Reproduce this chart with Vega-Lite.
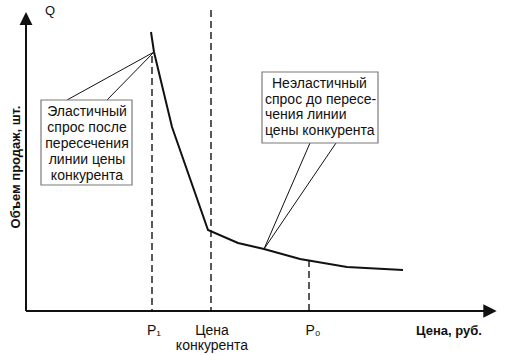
{
  "$schema": "https://vega.github.io/schema/vega-lite/v6.json",
  "width": 506,
  "height": 355,
  "autosize": {"type": "fit", "contains": "padding"},
  "padding": 0,
  "background": "white",
  "view": {"stroke": null},
  "config": {"text": {"font": "Liberation Sans", "color": "#111"}},
  "datasets": {
    "axes": [
      {"x": 26, "y": 311, "x2": 26, "y2": 22},
      {"x": 26, "y": 311, "x2": 486, "y2": 311}
    ],
    "arrowUp": [{"x": 26, "y": 18.5}],
    "arrowRight": [{"x": 490, "y": 311}],
    "dashes": [
      {"x": 152, "y": 56, "y2": 311},
      {"x": 211, "y": 10, "y2": 311},
      {"x": 309, "y": 260, "y2": 311}
    ],
    "curve": [
      {"x": 151, "y": 32},
      {"x": 154, "y": 52},
      {"x": 172, "y": 127},
      {"x": 208, "y": 230},
      {"x": 238, "y": 243},
      {"x": 264, "y": 249},
      {"x": 300, "y": 259},
      {"x": 347, "y": 267},
      {"x": 403, "y": 270}
    ],
    "pointers": [
      {"x": 67, "y": 100, "x2": 154, "y2": 52},
      {"x": 107, "y": 100, "x2": 154, "y2": 52},
      {"x": 310, "y": 143, "x2": 264, "y2": 249},
      {"x": 336, "y": 143, "x2": 264, "y2": 249}
    ],
    "boxes": [
      {"x": 41, "x2": 132, "y": 100, "y2": 185},
      {"x": 262, "x2": 378, "y": 72, "y2": 143}
    ],
    "leftText": [
      {"x": 87, "y": 112, "t": "Эластичный"},
      {"x": 87, "y": 128, "t": "спрос после"},
      {"x": 87, "y": 144, "t": "пересечения"},
      {"x": 87, "y": 160, "t": "линии цены"},
      {"x": 87, "y": 176, "t": "конкурента"}
    ],
    "rightText": [
      {"x": 272, "y": 84, "t": "Неэластичный"},
      {"x": 265, "y": 99.5, "t": "спрос до пересе-"},
      {"x": 265, "y": 115, "t": "чения линии"},
      {"x": 265, "y": 130.5, "t": "цены конкурента"}
    ],
    "ticks": [
      {"x": 154, "y": 331, "t": "P₁"},
      {"x": 212, "y": 331, "t": "Цена"},
      {"x": 212, "y": 346, "t": "конкурента"},
      {"x": 313, "y": 331, "t": "P₀"}
    ],
    "qLabel": [{"x": 50, "y": 11, "t": "Q"}],
    "xTitle": [{"x": 449, "y": 331, "t": "Цена, руб."}],
    "yTitle": [{"x": 16, "y": 167, "t": "Объем продаж, шт."}]
  },
  "encoding": {
    "x": {"field": "x", "type": "quantitative", "axis": null, "scale": {"domain": [0, 506], "nice": false, "zero": false}},
    "y": {"field": "y", "type": "quantitative", "axis": null, "scale": {"domain": [0, 355], "nice": false, "zero": false, "reverse": true}}
  },
  "layer": [
    {
      "data": {"name": "axes"},
      "mark": {"type": "rule", "color": "#111", "strokeWidth": 2},
      "encoding": {"x2": {"field": "x2"}, "y2": {"field": "y2"}}
    },
    {
      "data": {"name": "arrowUp"},
      "mark": {"type": "point", "shape": "M0,-1L1,1L-1,1Z", "filled": true, "color": "#111", "opacity": 1, "size": 165}
    },
    {
      "data": {"name": "arrowRight"},
      "mark": {"type": "point", "shape": "M1,0L-1,-1L-1,1Z", "filled": true, "color": "#111", "opacity": 1, "size": 180}
    },
    {
      "data": {"name": "dashes"},
      "mark": {"type": "rule", "color": "#000", "strokeWidth": 1.3, "strokeDash": [7, 4]},
      "encoding": {"y2": {"field": "y2"}}
    },
    {
      "data": {"name": "curve"},
      "mark": {"type": "line", "color": "#111", "strokeWidth": 2}
    },
    {
      "data": {"name": "pointers"},
      "mark": {"type": "rule", "color": "#111", "strokeWidth": 1},
      "encoding": {"x2": {"field": "x2"}, "y2": {"field": "y2"}}
    },
    {
      "data": {"name": "boxes"},
      "mark": {"type": "rect", "fill": "white", "stroke": "#7a7a7a", "strokeWidth": 1.2},
      "encoding": {"x2": {"field": "x2"}, "y2": {"field": "y2"}}
    },
    {
      "data": {"name": "leftText"},
      "mark": {"type": "text", "align": "center", "baseline": "middle", "fontSize": 14},
      "encoding": {"text": {"field": "t"}}
    },
    {
      "data": {"name": "rightText"},
      "mark": {"type": "text", "align": "left", "baseline": "middle", "fontSize": 14},
      "encoding": {"text": {"field": "t"}}
    },
    {
      "data": {"name": "ticks"},
      "mark": {"type": "text", "align": "center", "baseline": "middle", "fontSize": 14},
      "encoding": {"text": {"field": "t"}}
    },
    {
      "data": {"name": "qLabel"},
      "mark": {"type": "text", "align": "center", "baseline": "middle", "fontSize": 13},
      "encoding": {"text": {"field": "t"}}
    },
    {
      "data": {"name": "xTitle"},
      "mark": {"type": "text", "align": "center", "baseline": "middle", "fontSize": 13, "fontWeight": "bold"},
      "encoding": {"text": {"field": "t"}}
    },
    {
      "data": {"name": "yTitle"},
      "mark": {"type": "text", "align": "center", "baseline": "middle", "fontSize": 13, "fontWeight": "bold", "angle": 270},
      "encoding": {"text": {"field": "t"}}
    }
  ]
}
